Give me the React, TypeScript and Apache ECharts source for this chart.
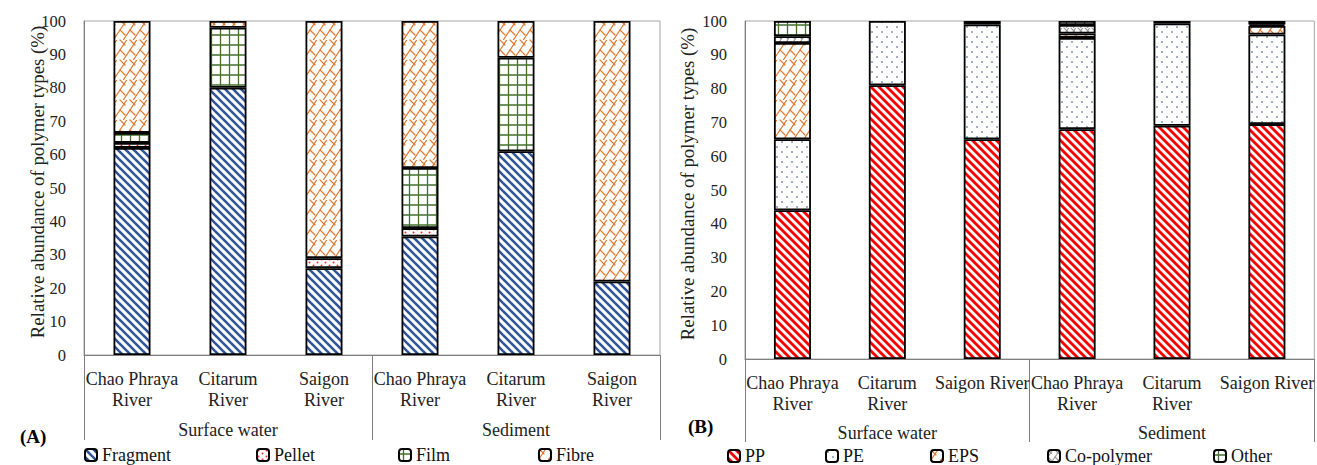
import React, { useEffect, useRef } from "react";
import * as echarts from "echarts";

const categoriesA = ["Chao Phraya\nRiver", "Citarum\nRiver", "Saigon\nRiver", "Chao Phraya\nRiver", "Citarum\nRiver", "Saigon\nRiver"];
const categoriesB = ["Chao Phraya\nRiver", "Citarum\nRiver", "Saigon River", "Chao Phraya\nRiver", "Citarum\nRiver", "Saigon River"];
const groups = ["Surface water", "Sediment"];

const fragment = [62, 80, 26, 35.5, 61, 22];
const pellet = [1.5, 0, 3, 2.5, 0, 0];
const film = [3, 18, 0, 18, 28, 0];
const fibre = [33.5, 2, 71, 44, 11, 78];

const pp = [44, 81, 65, 68, 69, 69.5];
const pe = [21, 19, 34, 27, 30.3, 26.5];
const eps = [28.5, 0, 1, 1.3, 0, 2.5];
const copolymer = [2, 0, 0, 2.5, 0, 0.5];
const other = [4.5, 0, 0, 1.2, 0.7, 1];

const FONT = "'Liberation Serif', 'Times New Roman', serif";

function tile(w: number, h: number, draw: (ctx: CanvasRenderingContext2D) => void) {
  const c = document.createElement("canvas");
  c.width = w;
  c.height = h;
  const ctx = c.getContext("2d")!;
  ctx.fillStyle = "#ffffff";
  ctx.fillRect(0, 0, w, h);
  draw(ctx);
  return { image: c, repeat: "repeat" } as any;
}

function stripes(color: string, s: number, lw: number) {
  return tile(s, s, (ctx) => {
    ctx.strokeStyle = color;
    ctx.lineWidth = lw;
    for (let k = -2; k <= 2; k++) {
      ctx.beginPath();
      ctx.moveTo(k * s - s, -s);
      ctx.lineTo(k * s + 2 * s, 2 * s);
      ctx.stroke();
    }
  });
}

function dots(color: string, w: number, h: number, pts: number[][], r: number) {
  return tile(w, h, (ctx) => {
    ctx.fillStyle = color;
    pts.forEach(([x, y]) => {
      ctx.beginPath();
      ctx.arc(x, y, r, 0, Math.PI * 2);
      ctx.fill();
    });
  });
}

function gridPat(color: string, w: number, h: number, lw: number) {
  return tile(w, h, (ctx) => {
    ctx.strokeStyle = color;
    ctx.lineWidth = lw;
    ctx.beginPath();
    ctx.moveTo(w / 2, 0);
    ctx.lineTo(w / 2, h);
    ctx.moveTo(0, h / 2);
    ctx.lineTo(w, h / 2);
    ctx.stroke();
  });
}

function brick(color: string, s: number, lw: number) {
  return tile(s, s, (ctx) => {
    ctx.strokeStyle = color;
    ctx.lineWidth = lw;
    ctx.lineCap = "round";
    const h = s / 2;
    for (let j = -4; j <= 6; j++) {
      const a = j * h;
      ctx.beginPath();
      ctx.moveTo(a + s, -s);
      ctx.lineTo(a - s, s + s);
      ctx.stroke();
      const c0 = j % 2 === 0 ? 0 : h;
      for (let m = -4; m <= 4; m++) {
        const c = c0 + m * s;
        ctx.beginPath();
        ctx.moveTo((a + c) / 2, (a - c) / 2);
        ctx.lineTo((a + h + c) / 2, (a + h - c) / 2);
        ctx.stroke();
      }
    }
  });
}

const nz = (arr: number[]) => arr.map((v) => (v === 0 ? null : v));

export default function App() {
  const ref = useRef<HTMLDivElement>(null);
  useEffect(() => {
    if (!ref.current) return;
    const chart = echarts.init(ref.current, undefined, { renderer: "svg" });

    const pFragment = stripes("#2f5597", 8, 2.6);
    const pPellet = dots("#ff2a2a", 8, 6, [[1.5, 1.5], [5.5, 4.5]], 1);
    const pFilm = gridPat("#44702c", 9, 10, 1.3);
    const pFibre = brick("#e2782f", 20, 1.2);
    const pPP = stripes("#ff0000", 8, 2.8);
    const pPE = dots("#2f4a80", 10, 10, [[2, 2], [7, 7]], 0.8);
    const pEPS = brick("#e2782f", 20, 1.2);
    const pCo = brick("#9a9a9a", 14, 1.1);
    const pOther = gridPat("#44702c", 9, 10, 1.3);

    const axisColor = "#7f7f7f";
    const border = { borderColor: "#000", borderWidth: 1.8 };

    const yAxisBase = (gap: number) => ({
      type: "value",
      min: 0,
      max: 100,
      interval: 10,
      name: "Relative abundance of polymer types (%)",
      nameLocation: "middle",
      nameGap: gap,
      nameMoveOverlap: false,
      nameTextStyle: { fontFamily: FONT, fontSize: 18.8, color: "#222", padding: [0, 0, 0, 12] },
      axisLine: { show: true, lineStyle: { color: axisColor, width: 1 } },
      axisTick: { show: false },
      splitLine: { show: false },
      axisLabel: { fontFamily: FONT, fontSize: 16.5, color: "#222", margin: 18 },
    });

    const riverAxis = (grid: number, data: string[]) => ({
      type: "category",
      gridIndex: grid,
      position: "bottom",
      data,
      axisLine: { show: true, lineStyle: { color: axisColor, width: 1 } },
      axisTick: { show: false },
      axisLabel: { interval: 0, fontFamily: FONT, fontSize: 18, color: "#222", margin: 13, lineHeight: 21 },
    });

    const groupAxis = (grid: number, len: number, margin: number) => ({
      type: "category",
      gridIndex: grid,
      position: "bottom",
      data: groups,
      axisLine: { show: false },
      axisTick: { show: true, length: len, interval: 0, lineStyle: { color: axisColor, width: 1 } },
      axisLabel: { interval: 0, fontFamily: FONT, fontSize: 18, color: "#222", margin },
    });

    const mk = (name: string, data: number[], pat: any, xi: number, yi: number, stack: string) => ({
      name,
      type: "bar",
      stack,
      xAxisIndex: xi,
      yAxisIndex: yi,
      barWidth: 37,
      data: nz(data),
      itemStyle: { color: pat, ...border },
      emphasis: { disabled: true },
    });

    const legendItem = (name: string, left: number, top: number) => ({
      data: [name],
      left,
      top,
      padding: 0,
      orient: "horizontal",
      itemWidth: 12,
      itemHeight: 12,
      itemGap: 5,
      selectedMode: false,
      textStyle: { fontFamily: FONT, fontSize: 18, color: "#111" },
    });

    chart.setOption({
      animation: false,
      backgroundColor: "#ffffff",
      grid: [
        { left: 84, top: 21, width: 576, height: 334, show: true, borderColor: "#a6a6a6", borderWidth: 1, backgroundColor: "transparent" },
        { left: 745, top: 21, width: 571, height: 338, show: true, borderColor: "#a6a6a6", borderWidth: 1, backgroundColor: "transparent" },
      ],
      xAxis: [riverAxis(0, categoriesA), groupAxis(0, 85, 66), riverAxis(1, categoriesB), groupAxis(1, 83, 65)],
      yAxis: [
        { ...yAxisBase(37), gridIndex: 0 },
        { ...yAxisBase(48), gridIndex: 1 },
      ],
      legend: [
        legendItem("Fragment", 84, 446),
        legendItem("Pellet", 256, 446),
        legendItem("Film", 398, 446),
        legendItem("Fibre", 538, 446),
        legendItem("PP", 727, 447),
        legendItem("PE", 825, 447),
        legendItem("EPS", 930, 447),
        legendItem("Co-polymer", 1047, 447),
        legendItem("Other", 1213, 447),
      ],
      graphic: [
        { type: "text", left: 20, top: 427, style: { text: "(A)", font: `bold 19px ${FONT}`, fill: "#000" } },
        { type: "text", left: 688, top: 417, style: { text: "(B)", font: `bold 19px ${FONT}`, fill: "#000" } },
      ],
      series: [
        mk("Fragment", fragment, pFragment, 0, 0, "A"),
        mk("Pellet", pellet, pPellet, 0, 0, "A"),
        mk("Film", film, pFilm, 0, 0, "A"),
        mk("Fibre", fibre, pFibre, 0, 0, "A"),
        mk("PP", pp, pPP, 2, 1, "B"),
        mk("PE", pe, pPE, 2, 1, "B"),
        mk("EPS", eps, pEPS, 2, 1, "B"),
        mk("Co-polymer", copolymer, pCo, 2, 1, "B"),
        mk("Other", other, pOther, 2, 1, "B"),
      ],
    });
    return () => chart.dispose();
  }, []);
  return <div ref={ref} style={{ position: "absolute", left: 0, top: 0, width: 1317, height: 465 }} />;
}
